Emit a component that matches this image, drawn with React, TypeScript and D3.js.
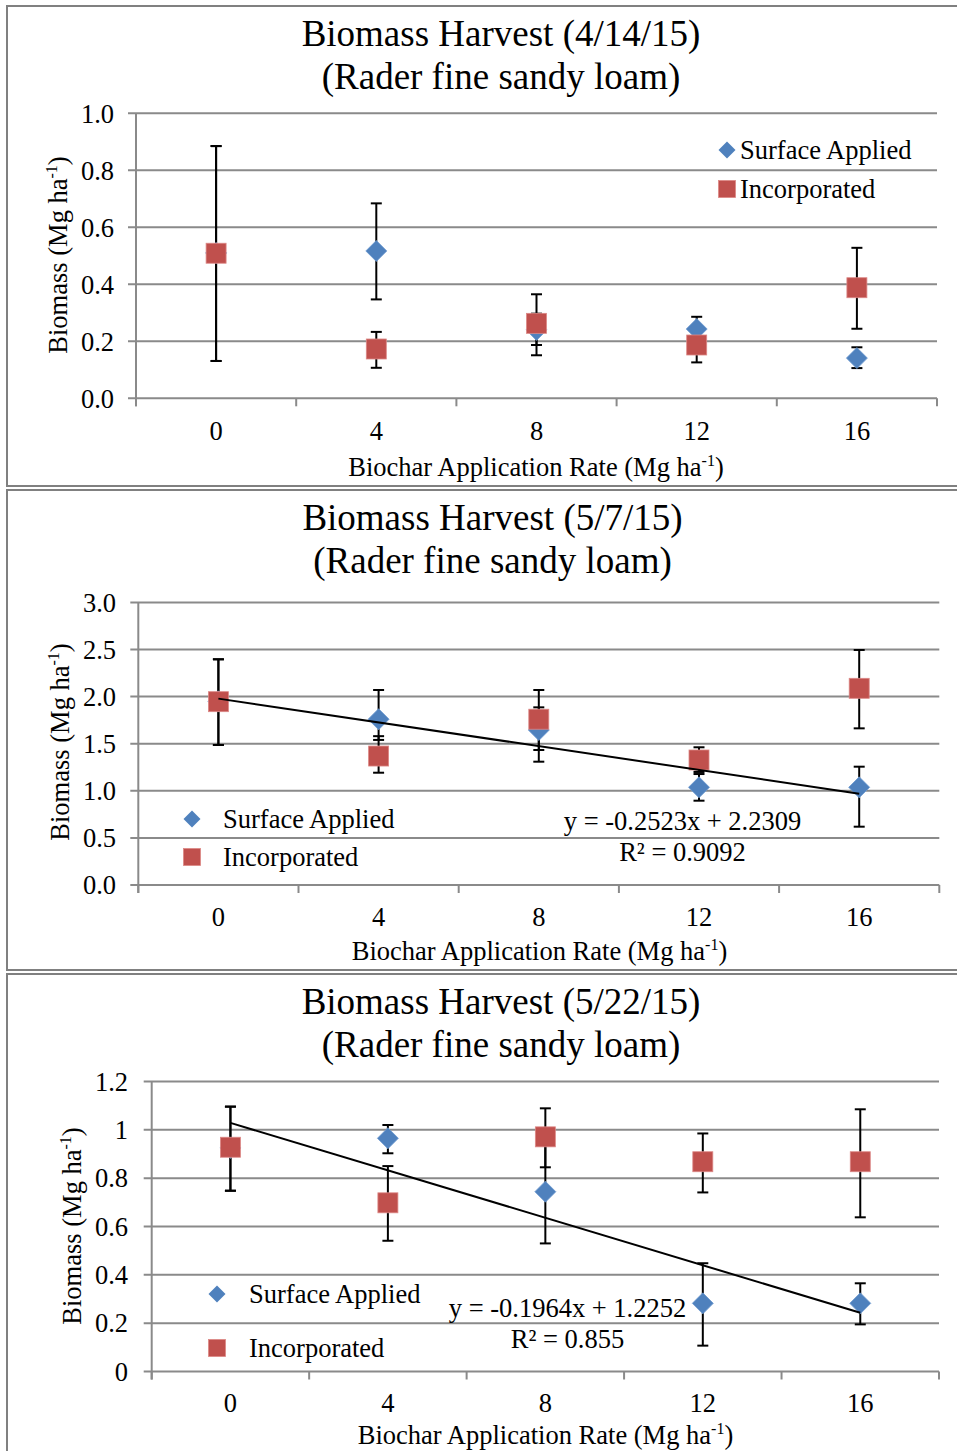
import React from 'react';
import * as d3 from 'd3';

const categories = ['0', '4', '8', '12', '16'];

// Panel 1 (4/14/15)
const title1 = ['Biomass Harvest (4/14/15)', '(Rader fine sandy loam)'];
const yTicks1 = [0, 0.2, 0.4, 0.6, 0.8, 1.0];
const yTickLabels1 = ['0.0', '0.2', '0.4', '0.6', '0.8', '1.0'];
const surface1 = [0.51, 0.517, 0.24, 0.243, 0.141];
const surface1Hi = [0.885, 0.684, 0.297, 0.286, 0.179];
const surface1Lo = [0.131, 0.347, 0.187, 0.2, 0.106];
const incorporated1 = [0.509, 0.173, 0.263, 0.187, 0.388];
const incorporated1Hi = [0.885, 0.233, 0.365, 0.24, 0.528];
const incorporated1Lo = [0.131, 0.107, 0.151, 0.126, 0.244];

// Panel 2 (5/7/15)
const title2 = ['Biomass Harvest (5/7/15)', '(Rader fine sandy loam)'];
const yTicks2 = [0, 0.5, 1.0, 1.5, 2.0, 2.5, 3.0];
const yTickLabels2 = ['0.0', '0.5', '1.0', '1.5', '2.0', '2.5', '3.0'];
const surface2 = [1.95, 1.76, 1.645, 1.037, 1.037];
const surface2Hi = [2.396, 2.07, 1.886, 1.178, 1.256];
const surface2Lo = [1.486, 1.54, 1.309, 0.895, 0.619];
const incorporated2 = [1.946, 1.369, 1.76, 1.327, 2.088];
const incorporated2Hi = [2.396, 1.58, 2.07, 1.462, 2.495];
const incorporated2Lo = [1.486, 1.192, 1.433, 1.2, 1.663];
const trend2Slope = -0.2523;
const trend2Intercept = 2.2309;
const equation2 = ['y = -0.2523x + 2.2309', 'R² = 0.9092'];

// Panel 3 (5/22/15)
const title3 = ['Biomass Harvest (5/22/15)', '(Rader fine sandy loam)'];
const yTicks3 = [0, 0.2, 0.4, 0.6, 0.8, 1.0, 1.2];
const yTickLabels3 = ['0', '0.2', '0.4', '0.6', '0.8', '1', '1.2'];
const surface3 = [0.925, 0.965, 0.744, 0.282, 0.282];
const surface3Hi = [1.096, 1.02, 0.958, 0.448, 0.365];
const surface3Lo = [0.748, 0.903, 0.53, 0.107, 0.195];
const incorporated3 = [0.928, 0.698, 0.971, 0.868, 0.868];
const incorporated3Hi = [1.096, 0.85, 1.089, 0.985, 1.085];
const incorporated3Lo = [0.748, 0.541, 0.845, 0.741, 0.638];
const trend3Slope = -0.1964;
const trend3Intercept = 1.2252;
const equation3 = ['y = -0.1964x + 1.2252', 'R² = 0.855'];

const seriesNames = ['Surface Applied', 'Incorporated'];
const xAxisTitle = 'Biochar Application Rate (Mg ha';
const yAxisTitle = 'Biomass (Mg ha';

const FONT = '"Liberation Serif", "Times New Roman", serif';
const BLUE = '#4F81BD';
const RED = '#C0504D';
const GRID = '#8a8a8a';
const FS = 26.5;
const TITLE_FS = 37;

type PanelProps = {
  frameTop: number;
  frameBottom: number;
  left: number;
  right: number;
  yTop: number;
  yBottom: number;
  yMax: number;
  titleX: number;
  titleY: [number, number];
  title: string[];
  yTicks: number[];
  yTickLabels: string[];
  yTickRight: number;
  xTickBaseline: number;
  xTitleX: number;
  xTitleBaseline: number;
  yTitleX: number;
  yTitleY: number;
  legend: { x: number; y1: number; y2: number; textX: number };
  surface: number[];
  surfaceHi: number[];
  surfaceLo: number[];
  incorporated: number[];
  incorporatedHi: number[];
  incorporatedLo: number[];
  trend?: { slope: number; intercept: number };
  equation?: string[];
  eqX?: number;
  eqY?: [number, number];
};

function diamondPath(cx: number, cy: number, r: number) {
  return `M${cx},${cy - r}L${cx + r},${cy}L${cx},${cy + r}L${cx - r},${cy}Z`;
}

function Panel(p: PanelProps) {
  const x = d3.scaleBand<string>().domain(categories).range([p.left, p.right]).padding(0);
  const cx = (c: string) => (x(c) as number) + x.bandwidth() / 2;
  const y = d3.scaleLinear().domain([0, p.yMax]).range([p.yBottom, p.yTop]);
  const boundaries = categories.map((c) => x(c) as number).concat([p.right]);
  const cap = 5.5;

  const errBars = (his: number[], los: number[], key: string) =>
    his.map((h, i) => {
      const xc = cx(categories[i]);
      const hi = y(h);
      const lo = y(los[i]);
      return (
        <g key={key + i} stroke="#000" strokeWidth={2}>
          <line x1={xc} x2={xc} y1={hi} y2={lo} />
          <line x1={xc - cap} x2={xc + cap} y1={hi} y2={hi} />
          <line x1={xc - cap} x2={xc + cap} y1={lo} y2={lo} />
        </g>
      );
    });

  return (
    <g>
      <rect x={7} y={p.frameTop} width={980} height={p.frameBottom - p.frameTop} fill="#fff" stroke="#808080" strokeWidth={2} />
      {p.title.map((t, i) => (
        <text key={'t' + i} x={p.titleX} y={p.titleY[i]} textAnchor="middle" fontFamily={FONT} fontSize={TITLE_FS} fill="#000">
          {t}
        </text>
      ))}
      {p.yTicks.map((t, i) => (
        <g key={'g' + i}>
          <line x1={p.left - 8} x2={p.right} y1={y(t)} y2={y(t)} stroke={GRID} strokeWidth={2} />
          <text x={p.yTickRight} y={y(t)} dy="0.35em" textAnchor="end" fontFamily={FONT} fontSize={FS} fill="#000">
            {p.yTickLabels[i]}
          </text>
        </g>
      ))}
      <line x1={p.left} x2={p.left} y1={p.yTop} y2={p.yBottom + 8} stroke={GRID} strokeWidth={2} />
      {boundaries.map((b, i) => (
        <line key={'xt' + i} x1={b} x2={b} y1={p.yBottom} y2={p.yBottom + 8} stroke={GRID} strokeWidth={2} />
      ))}
      {categories.map((c) => (
        <text key={'xl' + c} x={cx(c)} y={p.xTickBaseline} textAnchor="middle" fontFamily={FONT} fontSize={FS} fill="#000">
          {c}
        </text>
      ))}
      <text x={p.xTitleX} y={p.xTitleBaseline} textAnchor="middle" fontFamily={FONT} fontSize={FS} fill="#000">
        {xAxisTitle}
        <tspan fontSize={16} dy={-10}>-1</tspan>
        <tspan dy={10}>)</tspan>
      </text>
      <text
        transform={`translate(${p.yTitleX},${p.yTitleY}) rotate(-90)`}
        textAnchor="middle"
        dy="0.35em"
        fontFamily={FONT}
        fontSize={FS}
        fill="#000"
      >
        {yAxisTitle}
        <tspan fontSize={16} dy={-10}>-1</tspan>
        <tspan dy={10}>)</tspan>
      </text>
      {errBars(p.surfaceHi, p.surfaceLo, 's')}
      {errBars(p.incorporatedHi, p.incorporatedLo, 'i')}
      {p.surface.map((v, i) => (
        <path key={'sd' + i} d={diamondPath(cx(categories[i]), y(v), 10.5)} fill={BLUE} stroke="#6f9bd0" strokeWidth={0.8} />
      ))}
      {p.incorporated.map((v, i) => (
        <rect key={'ir' + i} x={cx(categories[i]) - 10} y={y(v) - 10} width={20} height={20} fill={RED} stroke="#dc8886" strokeWidth={0.8} />
      ))}
      {p.trend && (
        <line
          x1={cx(categories[0])}
          x2={cx(categories[categories.length - 1])}
          y1={y(p.trend.slope * 1 + p.trend.intercept)}
          y2={y(p.trend.slope * categories.length + p.trend.intercept)}
          stroke="#000"
          strokeWidth={2}
        />
      )}
      {p.equation &&
        p.equation.map((e, i) => (
          <text key={'eq' + i} x={p.eqX} y={p.eqY![i]} textAnchor="middle" fontFamily={FONT} fontSize={FS} fill="#000">
            {e}
          </text>
        ))}
      <path d={diamondPath(p.legend.x, p.legend.y1, 8.5)} fill={BLUE} />
      <text x={p.legend.textX} y={p.legend.y1} dy="0.33em" fontFamily={FONT} fontSize={FS} fill="#000">
        {seriesNames[0]}
      </text>
      <rect x={p.legend.x - 8.5} y={p.legend.y2 - 8.5} width={17} height={17} fill={RED} stroke="#dc8886" strokeWidth={0.8} />
      <text x={p.legend.textX} y={p.legend.y2} dy="0.33em" fontFamily={FONT} fontSize={FS} fill="#000">
        {seriesNames[1]}
      </text>
    </g>
  );
}

export default function App() {
  return (
    <svg width={957} height={1451} style={{ position: 'absolute', left: 0, top: 0, display: 'block', background: '#fff' }}>
      <rect x={0} y={0} width={957} height={1451} fill="#fff" />
      <Panel
        frameTop={6}
        frameBottom={486}
        left={136}
        right={937}
        yTop={113.3}
        yBottom={398.3}
        yMax={1.0}
        titleX={501}
        titleY={[46, 89]}
        title={title1}
        yTicks={yTicks1}
        yTickLabels={yTickLabels1}
        yTickRight={114}
        xTickBaseline={440}
        xTitleX={536}
        xTitleBaseline={476}
        yTitleX={58}
        yTitleY={255}
        legend={{ x: 727, y1: 150, y2: 189, textX: 740 }}
        surface={surface1}
        surfaceHi={surface1Hi}
        surfaceLo={surface1Lo}
        incorporated={incorporated1}
        incorporatedHi={incorporated1Hi}
        incorporatedLo={incorporated1Lo}
      />
      <Panel
        frameTop={490}
        frameBottom={970}
        left={138.3}
        right={939.3}
        yTop={602.4}
        yBottom={885}
        yMax={3.0}
        titleX={492.5}
        titleY={[530, 573]}
        title={title2}
        yTicks={yTicks2}
        yTickLabels={yTickLabels2}
        yTickRight={116}
        xTickBaseline={926}
        xTitleX={539.5}
        xTitleBaseline={960}
        yTitleX={60}
        yTitleY={742}
        legend={{ x: 192, y1: 819, y2: 857, textX: 223 }}
        surface={surface2}
        surfaceHi={surface2Hi}
        surfaceLo={surface2Lo}
        incorporated={incorporated2}
        incorporatedHi={incorporated2Hi}
        incorporatedLo={incorporated2Lo}
        trend={{ slope: trend2Slope, intercept: trend2Intercept }}
        equation={equation2}
        eqX={682.5}
        eqY={[830, 861]}
      />
      <Panel
        frameTop={974}
        frameBottom={1470}
        left={151.7}
        right={939}
        yTop={1081.5}
        yBottom={1371.5}
        yMax={1.2}
        titleX={501}
        titleY={[1014, 1057]}
        title={title3}
        yTicks={yTicks3}
        yTickLabels={yTickLabels3}
        yTickRight={128}
        xTickBaseline={1412}
        xTitleX={545.5}
        xTitleBaseline={1444}
        yTitleX={72}
        yTitleY={1226}
        legend={{ x: 217, y1: 1294, y2: 1348, textX: 249 }}
        surface={surface3}
        surfaceHi={surface3Hi}
        surfaceLo={surface3Lo}
        incorporated={incorporated3}
        incorporatedHi={incorporated3Hi}
        incorporatedLo={incorporated3Lo}
        trend={{ slope: trend3Slope, intercept: trend3Intercept }}
        equation={equation3}
        eqX={567.5}
        eqY={[1317, 1348]}
      />
    </svg>
  );
}
